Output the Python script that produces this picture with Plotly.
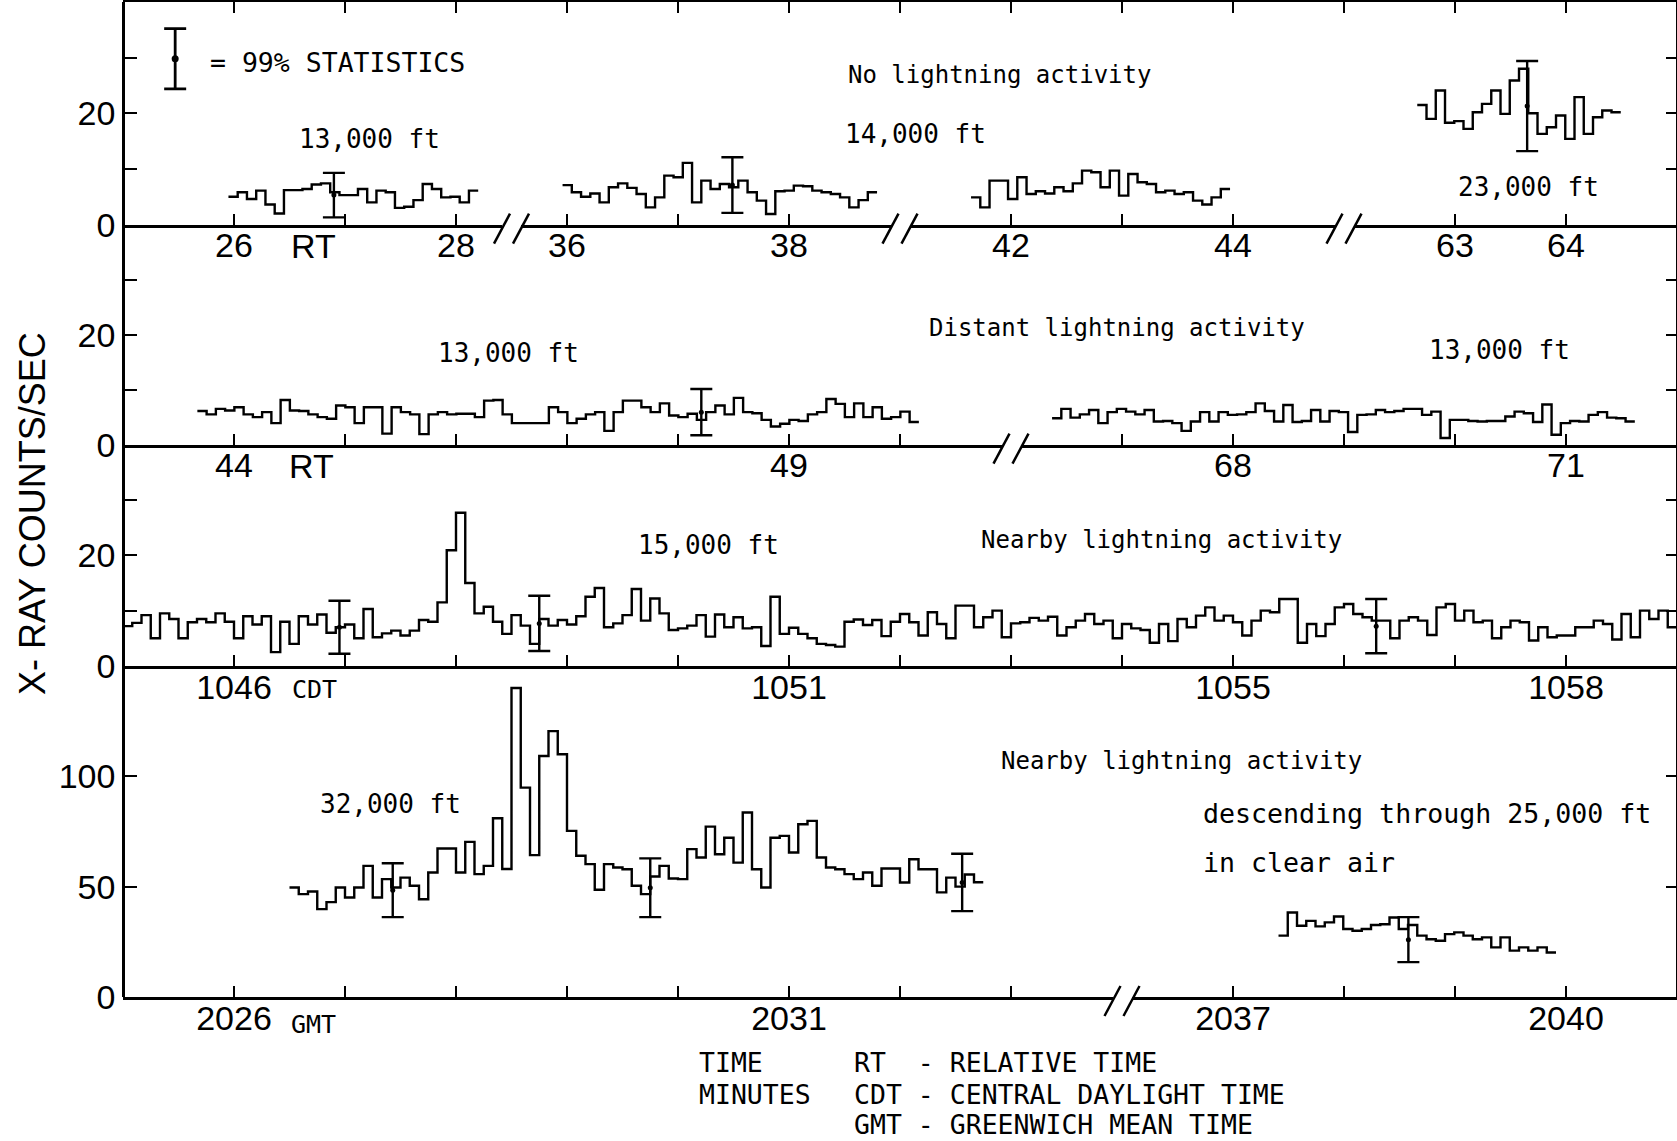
import plotly.graph_objects as go

# ------------------------------------------------------------------ data
BIN_MIN = 1 / 12  # 5-second counting bins (minutes)

# Panel 1 - no lightning activity (relative time, minutes)
P1A_START = 25.95
P1A_COUNTS = [5.0, 5.8, 4.6, 6.1, 3.6, 2.0, 6.2, 6.2, 6.4, 7.2, 7.4, 5.8, 5.3, 5.3, 6.4,
              4.0, 6.1, 5.8, 3.0, 3.2, 4.4, 7.3, 6.4, 4.9, 5.0, 4.0, 6.1]
P1B_START = 35.96
P1B_COUNTS = [7.1, 5.8, 5.0, 5.6, 4.0, 6.7, 7.4, 6.6, 5.5, 3.1, 4.9, 8.8, 8.5, 11.1, 4.0,
              7.9, 6.4, 7.3, 6.7, 7.9, 5.8, 4.3, 1.9, 6.0, 6.1, 7.0, 6.9, 6.1, 5.8, 5.5,
              4.9, 3.1, 4.4, 5.8]
P1C_START = 41.64
P1C_COUNTS = [4.9, 3.1, 7.9, 7.9, 4.6, 8.5, 5.5, 6.0, 5.6, 6.7, 6.0, 7.4, 9.7, 9.4, 6.7,
              9.7, 5.2, 9.1, 7.6, 7.3, 5.8, 6.1, 5.5, 5.8, 4.3, 3.6, 4.9, 6.4]
P1D_START = 62.66
P1D_COUNTS = [21.5, 19.0, 24.1, 18.3, 18.6, 17.2, 20.2, 21.7, 24.1, 19.9, 25.9, 28.0, 20.0,
              16.3, 17.5, 19.6, 15.4, 22.9, 16.3, 19.3, 20.5, 20.2]

# Panel 2 - distant lightning activity (relative time)
P2A_START = 43.67
P2A_COUNTS = [6.1, 5.5, 6.5, 6.2, 6.8, 5.5, 5.0, 5.9, 3.9, 8.1,
              6.2, 6.1, 5.5, 5.0, 4.7, 7.1, 6.8, 3.9, 6.8, 6.8,
              2.0, 6.8, 5.9, 5.5, 1.9, 5.5, 5.9, 5.5, 5.6, 5.6,
              5.0, 8.0, 8.1, 5.5, 3.9, 3.9, 3.9, 3.9, 6.8, 5.9,
              3.9, 4.7, 5.5, 5.9, 2.5, 5.9, 8.0, 8.0, 6.8, 5.9,
              7.5, 5.3, 5.0, 5.6, 4.5, 5.9, 7.1, 5.5, 8.5, 5.9,
              5.7, 4.5, 3.3, 3.8, 4.5, 4.3, 5.5, 5.9, 8.3, 7.4,
              5.0, 7.5, 5.0, 6.8, 4.7, 5.0, 6.0, 4.1]
P2B_START = 66.37
P2B_COUNTS = [4.8, 6.5, 4.9, 5.5, 6.3, 3.9, 5.9, 6.5, 6.0, 5.5,
              6.3, 4.2, 4.3, 3.9, 2.5, 4.2, 5.9, 4.2, 5.9, 5.4,
              5.5, 5.9, 7.5, 6.1, 4.2, 7.2, 4.1, 4.3, 6.3, 4.2,
              6.1, 5.9, 2.3, 5.4, 5.5, 6.3, 5.9, 6.1, 6.5, 6.5,
              5.4, 6.0, 1.2, 4.5, 4.5, 4.3, 4.2, 4.3, 4.3, 5.1,
              6.0, 5.7, 4.1, 7.3, 1.8, 3.9, 4.3, 4.2, 5.4, 5.9,
              4.9, 4.8, 4.2]

# Panel 3 - nearby lightning activity, 15,000 ft (CDT)
P3_START = 1045.0
P3_COUNTS = [7.2, 7.8, 9.2, 5.0, 9.5, 8.5, 5.0, 7.9, 8.5, 7.9,
             9.5, 8.0, 5.0, 9.0, 7.5, 9.0, 2.5, 8.0, 4.0, 9.0,
             7.5, 9.3, 6.0, 7.0, 7.5, 5.0, 10.3, 5.2, 5.9, 6.4,
             5.5, 6.4, 8.3, 8.0, 11.5, 20.9, 27.7, 15.0, 9.5, 10.7,
             8.0, 5.8, 9.2, 7.3, 4.0, 8.5, 7.3, 8.3, 7.5, 9.0,
             12.5, 14.1, 7.0, 7.7, 9.2, 13.9, 8.2, 12.2, 9.5, 6.5,
             6.8, 7.3, 9.2, 5.3, 9.3, 7.0, 8.8, 6.8, 7.0, 3.6,
             12.5, 5.8, 6.9, 5.8, 5.0, 4.0, 3.8, 3.5, 8.0, 8.4,
             7.4, 8.3, 5.4, 8.0,
             9.4, 7.9, 5.5, 9.7, 7.6, 5.0, 10.9, 10.9, 7.0, 8.8,
             10.0, 5.2, 7.7, 7.9, 8.7, 8.2, 8.9, 5.5, 7.0, 8.2,
             9.4, 7.6, 8.2, 5.0, 7.6, 6.8, 6.5, 4.2, 7.6, 4.5,
             8.5, 7.0, 9.1, 10.6, 8.2, 9.1, 7.9, 5.5, 8.2, 10.0,
             9.7, 12.1, 12.1, 4.2, 7.6, 5.4, 7.6, 10.6, 11.2, 9.4,
             8.8, 8.2, 8.2, 5.0, 8.2, 8.8, 8.2, 5.6, 10.6, 11.2,
             8.2, 10.0, 7.9, 8.2, 5.0, 7.0, 8.2, 7.9, 4.6, 7.0,
             5.2, 5.5, 5.5, 7.0, 7.0, 8.2, 7.6, 4.8, 9.4, 5.2,
             10.0, 8.5, 10.0, 7.0]

# Panel 4 - nearby lightning activity, 32,000 ft and descent (GMT)
P4A_START = 2026.50
P4A_COUNTS = [49.6, 46.6, 47.8, 39.8, 43.0, 49.6, 45.1, 49.6, 59.4, 45.1,
              53.4, 49.6, 54.1, 50.4, 44.3, 56.4, 67.3, 67.3, 56.4, 70.3,
              55.7, 59.4, 81.0, 58.0, 140.0, 94.9, 64.3, 109.2, 120.5, 110.0,
              75.3, 64.0, 60.2, 48.6, 60.2, 58.7, 57.9, 50.4, 46.6, 54.6,
              59.4, 53.7, 53.4, 67.0, 63.2, 77.2, 64.7, 72.2, 60.9, 83.6,
              57.9, 49.6, 72.2, 73.0, 65.5, 78.3, 79.8, 63.2, 58.7, 57.9,
              55.7, 53.4, 56.4, 50.4, 58.2, 58.2, 51.9, 62.4, 57.9, 57.9,
              47.4, 54.1, 50.0, 55.5, 52.0]
P4B_START = 2037.41
P4B_COUNTS = [27.8, 38.3, 32.3, 34.5, 32.0, 33.8, 36.5, 30.8, 30.0, 30.8,
              32.6, 33.0, 36.0, 30.8, 32.6, 27.8, 26.2, 25.5, 28.5, 29.3,
              27.8, 26.2, 27.0, 22.5, 27.0, 21.0, 22.5, 21.0, 22.5, 20.2]

# 99% statistics error bars (time, centre, half-length) per segment
ERR_P1A = ([26.90], [5.3], [4.0])
ERR_P1B = ([37.49], [7.1], [5.0])
ERR_P1D = ([63.65], [21.3], [8.1])
ERR_P2A = ([48.21], [5.9], [4.2])
ERR_P3 = ([1046.95, 1048.75, 1056.29], [7.0, 7.7, 7.2], [4.8, 5.0, 4.9])
ERR_P4A = ([2027.43, 2029.75, 2032.56], [48.4, 49.5, 51.9], [12.2, 13.3, 13.0])
ERR_P4B = ([2038.58], [26.0], [10.2])
LEGEND_BAR = ([25.47], [29.8], [5.4])

# ------------------------------------------------------------------ layout geometry
W, H = 1677, 1141
ML, MR, MT, MB = 123, 0, 2, 144
PW = W - ML - MR
PH = H - MT - MB
SPAN = 14.0
GAP = 9.5  # px on each side of an axis break
MONO = "DejaVu Sans Mono"
SANS = "Liberation Sans"
LW = 2.5


def px(x):
    return (x - ML) / PW


def py(y):
    return (H - MB - y) / PH


PANEL_BOTTOM = {1: 224.6, 2: 444.6, 3: 666.0, 4: 997.0}
PANEL_DOM = {1: [py(224.6), 1.0], 2: [py(444.6), py(224.6)],
             3: [py(666.0), py(444.6)], 4: [0.0, py(666.0)]}
PANEL_RANGE = {1: [0, 40], 2: [0, 40], 3: [0, 40], 4: [0, 150]}
PANEL_TICKS = {1: ([0, 10, 20, 30], ["0", "", "20", ""]),
               2: ([0, 10, 20, 30], ["0", "", "20", ""]),
               3: ([0, 10, 20, 30], ["0", "", "20", ""]),
               4: ([0, 50, 100], ["0", "50", "100"])}

# panel, frame start, frame end, minute offset, tick values, tick labels
SEGMENTS = [
    (1, 0, 3.5, 25, [26, 27, 28], ["26", "", "28"]),
    (1, 3.5, 7, 32, [36, 37, 38], ["36", "", "38"]),
    (1, 7, 11, 34, [42, 43, 44], ["42", "", "44"]),
    (1, 11, 14, 51, [63, 64], ["63", "64"]),
    (2, 0, 8, 43, list(range(44, 51)), ["44", "", "", "", "", "49", ""]),
    (2, 8, 14, 58, list(range(67, 72)), ["", "68", "", "", "71"]),
    (3, 0, 14, 1045, list(range(1046, 1059)),
     ["1046", "", "", "", "", "1051", "", "", "", "1055", "", "", "1058"]),
    (4, 0, 9, 2025, list(range(2026, 2034)), ["2026", "", "", "", "", "2031", "", ""]),
    (4, 9, 14, 2027, [2037, 2038, 2039, 2040], ["2037", "", "", "2040"]),
]

SERIES = [  # segment index, start, counts, error bars
    (0, P1A_START, P1A_COUNTS, ERR_P1A),
    (1, P1B_START, P1B_COUNTS, ERR_P1B),
    (2, P1C_START, P1C_COUNTS, None),
    (3, P1D_START, P1D_COUNTS, ERR_P1D),
    (4, P2A_START, P2A_COUNTS, ERR_P2A),
    (5, P2B_START, P2B_COUNTS, None),
    (6, P3_START, P3_COUNTS, ERR_P3),
    (7, P4A_START, P4A_COUNTS, ERR_P4A),
    (8, P4B_START, P4B_COUNTS, ERR_P4B),
]


def xname(i):
    return "x" if i == 0 else f"x{i + 1}"


def yname(p):
    return "y" if p == 1 else f"y{p}"


fig = go.Figure()
layout = {}

for i, (p, lo, hi, off, tv, tt) in enumerate(SEGMENTS):
    d0, d1 = lo / SPAN, hi / SPAN
    if lo > 0:
        d0 += GAP / PW
    if hi < SPAN:
        d1 -= GAP / PW
    key = "xaxis" if i == 0 else f"xaxis{i + 1}"
    layout[key] = dict(
        domain=[d0, d1], range=[off + d0 * SPAN, off + d1 * SPAN], anchor=yname(p),
        showline=True, linecolor="black", linewidth=LW, ticks="inside", ticklen=11,
        tickwidth=2, tickcolor="black", tickmode="array", tickvals=tv, ticktext=tt,
        ticklabelstandoff=-11,
        tickfont=dict(family=SANS, size=34, color="black"), showgrid=False,
        zeroline=False, fixedrange=True)

for p in (1, 2, 3, 4):
    tv, tt = PANEL_TICKS[p]
    key = "yaxis" if p == 1 else f"yaxis{p}"
    layout[key] = dict(
        domain=PANEL_DOM[p], range=PANEL_RANGE[p], anchor="free", position=0,
        showline=True, linecolor="black", linewidth=LW, ticks="inside", ticklen=12,
        tickwidth=2, tickcolor="black", tickmode="array", tickvals=tv, ticktext=tt,
        tickfont=dict(family=SANS, size=34, color="black"), showgrid=False,
        zeroline=False, fixedrange=True)
    # right-hand frame with mirrored ticks
    rk = f"yaxis{p + 4}"
    layout[rk] = dict(
        domain=PANEL_DOM[p], range=PANEL_RANGE[p], overlaying=yname(p), side="right",
        anchor="free", position=1, showline=True, linecolor="black", linewidth=LW,
        ticks="inside", ticklen=10, tickwidth=2, tickcolor="black", tickmode="array",
        tickvals=[v for v in tv if v > 0], showticklabels=False, showgrid=False,
        zeroline=False, fixedrange=True)
    fig.add_trace(go.Scatter(x=[None], y=[None], xaxis="x7", yaxis=f"y{p + 4}",
                             showlegend=False, hoverinfo="skip"))

# top frame of panel 1 with ticks every minute
layout["xaxis10"] = dict(
    domain=[0, 1], range=[0, SPAN], anchor="y", side="top", showline=True,
    linecolor="black", linewidth=LW, ticks="inside", ticklen=11, tickwidth=2,
    tickcolor="black", tickmode="array", tickvals=list(range(1, 14)),
    showticklabels=False, showgrid=False, zeroline=False, fixedrange=True)
fig.add_trace(go.Scatter(x=[None], y=[None], xaxis="x10", yaxis="y",
                         showlegend=False, hoverinfo="skip"))

# histogram traces and error bars
for seg, start, counts, err in SERIES:
    p = SEGMENTS[seg][0]
    xs = [start + k * BIN_MIN for k in range(len(counts) + 1)]
    ys = list(counts) + [counts[-1]]
    fig.add_trace(go.Scatter(x=xs, y=ys, mode="lines",
                             line=dict(color="black", width=2.4, shape="hv"),
                             xaxis=xname(seg), yaxis=yname(p), showlegend=False,
                             hoverinfo="skip"))
    if err:
        fig.add_trace(go.Scatter(
            x=err[0], y=err[1], mode="markers",
            marker=dict(color="black", size=5),
            error_y=dict(type="data", array=err[2], color="black", thickness=2.4, width=11),
            xaxis=xname(seg), yaxis=yname(p), showlegend=False, hoverinfo="skip"))

# legend error bar (99% statistics)
fig.add_trace(go.Scatter(
    x=LEGEND_BAR[0], y=LEGEND_BAR[1], mode="markers",
    marker=dict(color="black", size=7),
    error_y=dict(type="data", array=LEGEND_BAR[2], color="black", thickness=2.8, width=11),
    xaxis="x", yaxis="y", showlegend=False, hoverinfo="skip"))

# axis break marks "//"
shapes = []
for i, (p, lo, hi, off, tv, tt) in enumerate(SEGMENTS):
    if lo > 0:
        xb = ML + lo / SPAN * PW
        yb = PANEL_BOTTOM[p] + 4
        for s in (-1, 1):
            cx = xb + s * GAP
            shapes.append(dict(type="line", xref="paper", yref="paper",
                               x0=px(cx - 8), y0=py(yb + 15), x1=px(cx + 8), y1=py(yb - 15),
                               line=dict(color="black", width=LW)))


def ann(text, x, y, size=26, family=MONO, xanchor="center", angle=0):
    return dict(text=text, x=px(x), y=py(y), xref="paper", yref="paper",
                xanchor=xanchor, yanchor="middle", showarrow=False, textangle=angle,
                font=dict(family=family, size=size, color="black"))


NB = "\u00a0"
annotations = [
    ann("=" + NB + "99%" + NB + "STATISTICS", 208, 62, size=26.5, xanchor="left"),
    ann("13,000 ft", 369, 139),
    ann("No lightning activity", 999, 75, size=24),
    ann("14,000 ft", 915, 134),
    ann("23,000 ft", 1528, 187),
    ann("Distant lightning activity", 1117, 328, size=24),
    ann("13,000 ft", 508, 353),
    ann("13,000 ft", 1499, 350),
    ann("15,000 ft", 708, 545),
    ann("Nearby lightning activity", 1161, 540, size=24),
    ann("32,000 ft", 390, 804),
    ann("Nearby lightning activity", 1181, 761, size=24),
    ann("descending through 25,000 ft", 1201, 813, size=26.6, xanchor="left"),
    ann("in clear air", 1201, 862, size=26.6, xanchor="left"),
    ann("TIME", 697, 1062, size=26.5, xanchor="left"),
    ann("MINUTES", 697, 1094, size=26.5, xanchor="left"),
    ann("RT" + NB * 2 + "-" + NB + "RELATIVE TIME", 852, 1062, size=26.5, xanchor="left"),
    ann("CDT" + NB + "-" + NB + "CENTRAL DAYLIGHT TIME", 852, 1094, size=26.5, xanchor="left"),
    ann("GMT" + NB + "-" + NB + "GREENWICH MEAN TIME", 852, 1124, size=26.5, xanchor="left"),
    ann("RT", 313, 246, size=34, family=SANS),
    ann("RT", 311, 466, size=34, family=SANS),
    ann("CDT", 290, 689, size=25, xanchor="left"),
    ann("GMT", 289, 1024, size=25, xanchor="left"),
    ann("X- RAY COUNTS/SEC", 32, 514, size=36, family=SANS, angle=-90),
]

fig.update_layout(
    width=W, height=H, margin=dict(l=ML, r=MR, t=MT, b=MB, pad=0),
    paper_bgcolor="white", plot_bgcolor="rgba(0,0,0,0)", showlegend=False,
    shapes=shapes, annotations=annotations, **layout)

fig.write_html("out.html", config={"displayModeBar": False},
               post_script="document.body.style.margin='0';document.body.style.padding='0';")
